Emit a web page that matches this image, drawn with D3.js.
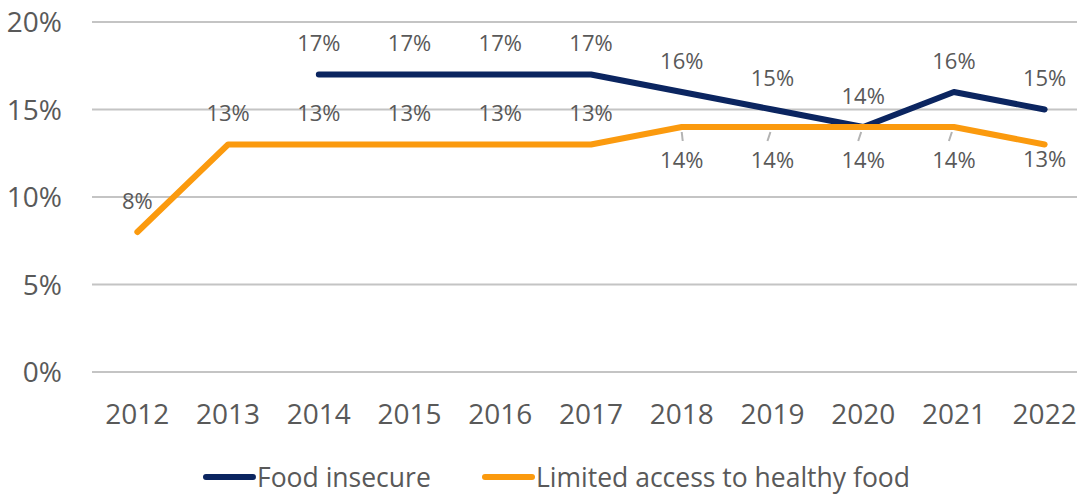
<!DOCTYPE html>
<html>
<head>
<meta charset="utf-8">
<script src="https://cdn.jsdelivr.net/npm/d3@7"></script>
<style>
  body { margin: 0; background: #fff; }
  text { font-family: "Open Sans", "Noto Sans", sans-serif; fill: #595959; }
</style>
</head>
<body>
<div id="chart"></div>
<script>
const years = ["2012", "2013", "2014", "2015", "2016", "2017", "2018", "2019", "2020", "2021", "2022"];
const foodInsecure = [null, null, 17, 17, 17, 17, 16, 15, 14, 16, 15];
const limitedAccess = [8, 13, 13, 13, 13, 13, 14, 14, 14, 14, 13];
// label below the point for these years (limited access series)
const belowYears = ["2018", "2019", "2020", "2021", "2022"];
const yTicks = [0, 5, 10, 15, 20];
const seriesNames = ["Food insecure", "Limited access to healthy food"];
const colors = ["#0b2560", "#fb9a0e"];

const width = 1077;
const height = 495;
const marginTop = 22;
const marginLeft = 92;
const marginRight = -13;
const plotBottom = 372;

const x = d3.scalePoint()
  .domain(years)
  .range([marginLeft, width - marginRight])
  .padding(0.5);

const y = d3.scaleLinear()
  .domain([0, 20])
  .range([plotBottom, marginTop]);

const svg = d3.select("#chart")
  .append("svg")
  .attr("width", width)
  .attr("height", height)
  .attr("viewBox", [0, 0, width, height]);

// gridlines
svg.append("g")
  .selectAll("line")
  .data(yTicks)
  .join("line")
  .attr("x1", marginLeft)
  .attr("x2", width)
  .attr("y1", d => y(d))
  .attr("y2", d => y(d))
  .attr("stroke", "#c4c4c4")
  .attr("stroke-width", 2);

// y axis labels
svg.append("g")
  .selectAll("text")
  .data(yTicks)
  .join("text")
  .attr("x", 62)
  .attr("y", d => y(d))
  .attr("dy", "0.36em")
  .attr("text-anchor", "end")
  .attr("font-size", 28)
  .text(d => d + "%");

// x axis labels
svg.append("g")
  .selectAll("text")
  .data(years)
  .join("text")
  .attr("x", d => x(d))
  .attr("y", 414)
  .attr("dy", "0.36em")
  .attr("text-anchor", "middle")
  .attr("font-size", 28)
  .text(d => d);

const line = d3.line()
  .defined(d => d.v != null)
  .x(d => x(d.year))
  .y(d => y(d.v));

const series = [foodInsecure, limitedAccess].map(vals =>
  years.map((yr, i) => ({ year: yr, v: vals[i] })));

series.forEach((s, i) => {
  svg.append("path")
    .datum(s)
    .attr("fill", "none")
    .attr("stroke", colors[i])
    .attr("stroke-width", 6)
    .attr("stroke-linejoin", "round")
    .attr("stroke-linecap", "round")
    .attr("d", line);
});

// leader lines for labels placed below
svg.append("g")
  .selectAll("line")
  .data(series[1].filter(d => belowYears.includes(d.year) && d.v == 14))
  .join("line")
  .attr("x1", (d, i) => x(d.year) + [0, -2, -2, -2][i])
  .attr("x2", (d, i) => x(d.year) + [1, -5, -5, -5][i])
  .attr("y1", d => y(d.v) + 5)
  .attr("y2", d => y(d.v) + 14)
  .attr("stroke", "#b3b3b3")
  .attr("stroke-width", 2);

// data labels
svg.append("g")
  .selectAll("text")
  .data(series[0].filter(d => d.v != null))
  .join("text")
  .attr("x", d => x(d.year))
  .attr("y", d => y(d.v) - 31)
  .attr("dy", "0.36em")
  .attr("text-anchor", "middle")
  .attr("font-size", 22)
  .text(d => d.v + "%");

svg.append("g")
  .selectAll("text")
  .data(series[1])
  .join("text")
  .attr("x", d => x(d.year))
  .attr("y", d => belowYears.includes(d.year) ? y(d.v) + (d.v == 14 ? 33 : 15) : y(d.v) - 31)
  .attr("dy", "0.36em")
  .attr("text-anchor", "middle")
  .attr("font-size", 22)
  .text(d => d.v + "%");

// legend
const legendX = [203, 482];
const legend = svg.append("g")
  .selectAll("g")
  .data(seriesNames)
  .join("g")
  .attr("transform", (d, i) => `translate(${legendX[i]},477)`);

legend.append("line")
  .attr("x1", 3)
  .attr("x2", 50)
  .attr("stroke", (d, i) => colors[i])
  .attr("stroke-width", 6)
  .attr("stroke-linecap", "round");

legend.append("text")
  .attr("x", 54)
  .attr("dy", "0.36em")
  .attr("font-size", 26.5)
  .text(d => d);
</script>
</body>
</html>
